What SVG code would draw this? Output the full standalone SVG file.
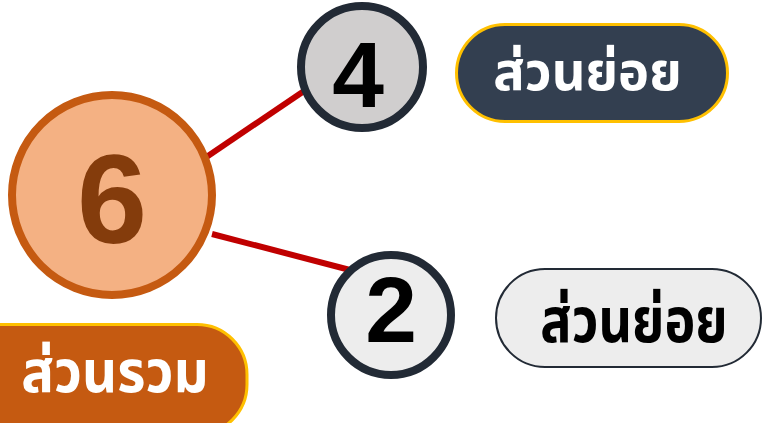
<svg xmlns="http://www.w3.org/2000/svg" width="762" height="423" viewBox="0 0 762 423">
<style>
.num{font-family:"Liberation Sans","Noto Sans",sans-serif;font-weight:bold;text-anchor:middle}
.th{font-family:"Noto Sans Thai","Noto Sans Thai Looped","Noto Sans","DejaVu Sans",sans-serif;font-weight:bold;text-anchor:middle}
.conn{stroke:#C00000;stroke-width:6;fill:none}
</style>
<rect width="762" height="423" fill="#FFFFFF"/>
<g id="connectors">
<line class="conn" x1="205" y1="158" x2="304" y2="91"/>
<line class="conn" x1="212" y1="234" x2="350" y2="270"/>
</g>
<g id="node-6">
<circle cx="112" cy="195" r="100" fill="#F4B183" stroke="#C55A11" stroke-width="8"/>
<text class="num" x="112" y="243" font-size="126" fill="#843C0C">6</text>
</g>
<g id="node-4">
<circle cx="362" cy="67" r="61" fill="#D0CECE" stroke="#222A35" stroke-width="8"/>
<text class="num" x="358" y="107" font-size="93" fill="#000000">4</text>
</g>
<g id="node-2">
<circle cx="391" cy="315" r="60" fill="#EDEDED" stroke="#222A35" stroke-width="8"/>
<text class="num" x="391" y="342" font-size="93" fill="#000000">2</text>
</g>
<g id="label-part1">
<rect x="456.5" y="24.5" width="271" height="97" rx="48.5" fill="#333F50" stroke="#FFC000" stroke-width="3"/>
<text class="th" transform="translate(587.5,90) scale(0.97,1)" font-size="54" fill="#FFFFFF">ส่วนย่อย</text>
</g>
<g id="label-part2">
<rect x="496" y="269" width="265" height="98" rx="49" fill="#EDEDED" stroke="#222A35" stroke-width="2"/>
<text class="th" transform="translate(634,342) scale(0.84,1)" font-size="62" fill="#000000">ส่วนย่อย</text>
</g>
<g id="label-whole">
<rect x="-60" y="324.5" width="307" height="110" rx="50" fill="#C55A11" stroke="#FFC000" stroke-width="3"/>
<text class="th" transform="translate(115,392) scale(0.94,1)" font-size="58" fill="#FFFFFF">ส่วนรวม</text>
</g>
</svg>
